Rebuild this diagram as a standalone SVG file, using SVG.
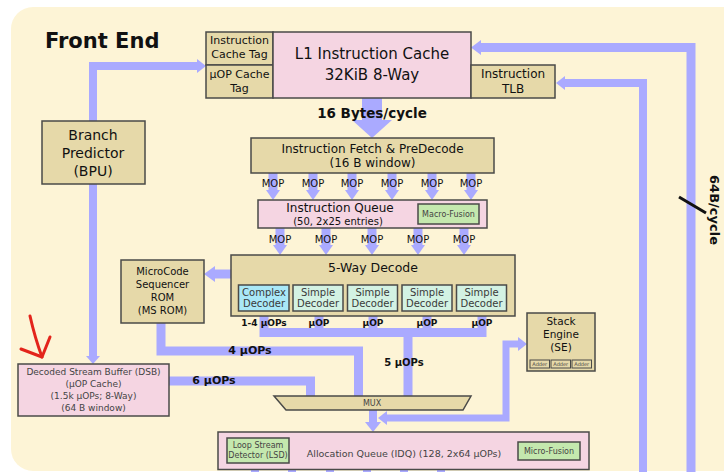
<svg xmlns="http://www.w3.org/2000/svg" width="724" height="472" viewBox="0 0 724 472">
<style>
text{font-family:"DejaVu Sans","Liberation Sans",sans-serif;text-anchor:middle;fill:#111}
.box{stroke:#4a4a48;stroke-width:1.5}
.tan{fill:#e6d9a9}
.pink{fill:#f5d5e2}
.green{fill:#c4e8ae}
.cx{fill:#a9e8f7}
.simple{fill:#d3f2e3}
.ln{fill:none;stroke:#aaaaff;stroke-linejoin:miter}
.hd{fill:#aaaaff}
.b{font-weight:bold}
.g{fill:#444}
.dec{font-size:10px;fill:#3a3a3a}
</style>
<rect x="0" y="0" width="724" height="472" fill="#ffffff"/>
<rect x="11" y="7" width="760" height="464" rx="22" fill="#fdf4d6"/>
<text x="45" y="48" class="b" style="font-size:21px;text-anchor:start">Front End</text>

<g id="connectors">
  <path class="ln" stroke-width="8" d="M93,121 V66 H198"/>
  <polygon class="hd" points="197,59 206,66 197,73"/>
  <path class="ln" stroke-width="8" d="M93,184 V356"/>
  <polygon class="hd" points="86,356 100,356 93,364"/>
  <rect x="362" y="98" width="20" height="23" class="hd"/>
  <polygon class="hd" points="352,120 392,120 372,138"/>
  <path class="ln" stroke-width="9" d="M480,47.5 H691 V472"/>
  <polygon class="hd" points="481,40 481,55 471,47.5"/>
  <path class="ln" stroke-width="8" d="M564,83 H643 V472"/>
  <polygon class="hd" points="565,76 565,90 556,83"/>
  <g id="mop1">
    <path class="ln" stroke-width="9" d="M273,173V191 M313,173V191 M352,173V191 M392,173V191 M432,173V191 M471,173V191"/>
    <polygon class="hd" points="266,190 280,190 273,200"/>
    <polygon class="hd" points="306,190 320,190 313,200"/>
    <polygon class="hd" points="345,190 359,190 352,200"/>
    <polygon class="hd" points="385,190 399,190 392,200"/>
    <polygon class="hd" points="425,190 439,190 432,200"/>
    <polygon class="hd" points="464,190 478,190 471,200"/>
  </g>
  <g id="mop2">
    <path class="ln" stroke-width="9" d="M280,228V246 M326,228V246 M372,228V246 M418,228V246 M464,228V246"/>
    <polygon class="hd" points="273,245 287,245 280,255"/>
    <polygon class="hd" points="319,245 333,245 326,255"/>
    <polygon class="hd" points="365,245 379,245 372,255"/>
    <polygon class="hd" points="411,245 425,245 418,255"/>
    <polygon class="hd" points="457,245 471,245 464,255"/>
  </g>
  <path class="ln" stroke-width="9" d="M231,274 H214"/>
  <polygon class="hd" points="215,266 215,282 204,274"/>
  <path class="ln" stroke-width="9" d="M264,311 V332.5 H482 V311 M319,311 V333 M373,311 V333 M427,311 V333 M408,332 V396"/>
  <path class="ln" stroke-width="9" d="M161,323 V351 H358.5 V396"/>
  <path class="ln" stroke-width="9" d="M169,381 H310.5 V396"/>
  <path class="ln" stroke-width="8" d="M373,410 V423"/>
  <polygon class="hd" points="365,422 381,422 373,432"/>
  <path class="ln" stroke-width="7" d="M386,418 H506 V344 H519"/>
  <polygon class="hd" points="387,411 387,425 378,418"/>
  <polygon class="hd" points="518,337 518,351 527,344"/>
  <path class="ln" stroke-width="8" d="M255,469V472 M292,469V472 M330,469V472 M367,469V472 M404,469V472 M441,469V472"/>
</g>

<g id="labels">
  <text x="372" y="118" class="b" style="font-size:13.5px">16 Bytes/cycle</text>
  <g style="font-size:10px">
    <text x="273" y="187">MOP</text><text x="313" y="187">MOP</text><text x="352" y="187">MOP</text>
    <text x="392" y="187">MOP</text><text x="432" y="187">MOP</text><text x="471" y="187">MOP</text>
    <text x="280" y="243">MOP</text><text x="326" y="243">MOP</text><text x="372" y="243">MOP</text>
    <text x="418" y="243">MOP</text><text x="464" y="243">MOP</text>
  </g>
  <g class="b" style="font-size:9px">
    <text x="264" y="326">1-4 µOPs</text><text x="319" y="326">µOP</text><text x="373" y="326">µOP</text>
    <text x="427" y="326">µOP</text><text x="482" y="326">µOP</text>
  </g>
  <text x="404" y="366" class="b" style="font-size:10px">5 µOPs</text>
  <text x="250" y="354" class="b" style="font-size:11px">4 µOPs</text>
  <text x="214" y="384" class="b" style="font-size:11px">6 µOPs</text>
  <text transform="translate(710,210) rotate(90)" class="b" style="font-size:13px">64B/cycle</text>
  <line x1="679" y1="197" x2="706" y2="213" stroke="#111" stroke-width="3"/>
</g>

<g id="icache-tag">
  <rect x="206" y="32" width="67" height="33" class="box tan"/>
  <text x="239.5" y="44" style="font-size:11px">Instruction</text>
  <text x="239.5" y="58" style="font-size:11px">Cache Tag</text>
</g>
<g id="uop-cache-tag">
  <rect x="206" y="65" width="67" height="33" class="box tan"/>
  <text x="239.5" y="78" style="font-size:11px">µOP Cache</text>
  <text x="239.5" y="92" style="font-size:11px">Tag</text>
</g>
<g id="l1-icache">
  <rect x="273" y="32" width="198" height="66" class="box pink"/>
  <text x="372" y="59" style="font-size:15px">L1 Instruction Cache</text>
  <text x="372" y="80" style="font-size:15px">32KiB 8-Way</text>
</g>
<g id="itlb">
  <rect x="471" y="65" width="84" height="33" class="box tan"/>
  <text x="513" y="78" style="font-size:12px">Instruction</text>
  <text x="513" y="93" style="font-size:12px">TLB</text>
</g>
<g id="bpu">
  <rect x="42" y="121" width="103" height="63" class="box tan"/>
  <text x="93" y="140" style="font-size:14px">Branch</text>
  <text x="93" y="158" style="font-size:14px">Predictor</text>
  <text x="93" y="176" style="font-size:14px">(BPU)</text>
</g>
<g id="fetch">
  <rect x="251" y="138" width="243" height="35" class="box tan"/>
  <text x="372.5" y="153" style="font-size:12px">Instruction Fetch &amp; PreDecode</text>
  <text x="372.5" y="167" style="font-size:12px">(16 B window)</text>
</g>
<g id="iq">
  <rect x="258" y="200" width="229" height="28" class="box pink"/>
  <text x="340" y="212" style="font-size:12px">Instruction Queue</text>
  <text x="338" y="225" style="font-size:10px">(50, 2x25 entries)</text>
  <rect x="418" y="204" width="61" height="20" class="box green"/>
  <text x="448.5" y="217" style="font-size:8px" class="g">Macro-Fusion</text>
</g>
<g id="decode">
  <rect x="231" y="255" width="284" height="61" class="box tan"/>
  <text x="373" y="272" style="font-size:12.5px">5-Way Decode</text>
  <rect x="238.5" y="285" width="50.5" height="26" class="box cx"/>
  <text x="264" y="296" class="dec">Complex</text><text x="264" y="307" class="dec">Decoder</text>
  <rect x="293" y="285" width="50" height="26" class="box simple"/>
  <text x="318" y="296" class="dec">Simple</text><text x="318" y="307" class="dec">Decoder</text>
  <rect x="347.5" y="285" width="50" height="26" class="box simple"/>
  <text x="372.5" y="296" class="dec">Simple</text><text x="372.5" y="307" class="dec">Decoder</text>
  <rect x="402" y="285" width="50" height="26" class="box simple"/>
  <text x="427" y="296" class="dec">Simple</text><text x="427" y="307" class="dec">Decoder</text>
  <rect x="456.5" y="285" width="50" height="26" class="box simple"/>
  <text x="481.5" y="296" class="dec">Simple</text><text x="481.5" y="307" class="dec">Decoder</text>
</g>
<g id="msrom">
  <rect x="121" y="260" width="83" height="63" class="box tan"/>
  <text x="162.5" y="275" style="font-size:10px">MicroCode</text>
  <text x="162.5" y="288" style="font-size:10px">Sequencer</text>
  <text x="162.5" y="301" style="font-size:10px">ROM</text>
  <text x="162.5" y="314" style="font-size:10px">(MS ROM)</text>
</g>
<g id="dsb">
  <rect x="18" y="364" width="151" height="52" class="box pink"/>
  <text x="93.5" y="375" style="font-size:9px" class="g">Decoded Stream Buffer (DSB)</text>
  <text x="93.5" y="387" style="font-size:9px" class="g">(µOP Cache)</text>
  <text x="93.5" y="399" style="font-size:9px" class="g">(1.5k µOPs; 8-Way)</text>
  <text x="93.5" y="411" style="font-size:9px" class="g">(64 B window)</text>
</g>
<g id="stack-engine">
  <rect x="527" y="313" width="68" height="58" class="box tan"/>
  <text x="561" y="325" style="font-size:10.5px">Stack</text>
  <text x="561" y="338" style="font-size:10.5px">Engine</text>
  <text x="561" y="351" style="font-size:10.5px">(SE)</text>
  <rect x="530" y="360" width="19.5" height="8" class="box tan" style="stroke-width:1"/>
  <rect x="551" y="360" width="19.5" height="8" class="box tan" style="stroke-width:1"/>
  <rect x="572" y="360" width="19.5" height="8" class="box tan" style="stroke-width:1"/>
  <text x="539.75" y="366.3" style="font-size:5px" class="g">Adder</text>
  <text x="560.75" y="366.3" style="font-size:5px" class="g">Adder</text>
  <text x="581.75" y="366.3" style="font-size:5px" class="g">Adder</text>
</g>
<g id="mux">
  <polygon points="274,396 471,396 463,410 286,410" class="box tan"/>
  <text x="372" y="406" style="font-size:8px" class="g">MUX</text>
</g>
<g id="idq">
  <rect x="218" y="432" width="371" height="37.5" class="box pink"/>
  <text x="404" y="457" style="font-size:9.5px" class="g">Allocation Queue (IDQ) (128, 2x64 µOPs)</text>
  <rect x="227" y="438" width="62" height="25" class="box green"/>
  <text x="258" y="448" style="font-size:8px" class="g">Loop Stream</text>
  <text x="258" y="458" style="font-size:8px" class="g">Detector (LSD)</text>
  <rect x="518" y="442" width="62" height="18" class="box green"/>
  <text x="549" y="454" style="font-size:8px" class="g">Micro-Fusion</text>
</g>
<g id="red-mark" fill="none" stroke="#e3241b" stroke-width="3" stroke-linecap="round" stroke-linejoin="round">
  <path d="M30,316 Q35,338 42,357"/>
  <path d="M21,349 L42,357 L50,337"/>
</g>
</svg>
